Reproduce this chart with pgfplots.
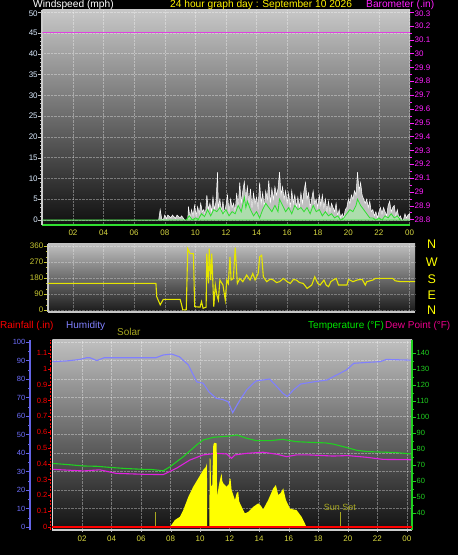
\documentclass[border=0pt]{standalone}
\usepackage{pgfplots}
\pgfplotsset{compat=1.18}
\usepackage{fontspec}
\setmainfont{Liberation Sans}
\definecolor{tickyel}{HTML}{D8D840}
\definecolor{diryel}{HTML}{C8C832}
\definecolor{windlbl}{HTML}{DCECFF}
\definecolor{baromag}{HTML}{E040E0}
\definecolor{magtxt}{HTML}{FF20FF}
\definecolor{humblue}{HTML}{8080FF}
\definecolor{humlbl}{HTML}{7070FF}
\definecolor{humaxis}{HTML}{6464E6}
\definecolor{tempgreen}{HTML}{20D020}
\definecolor{dewmag}{HTML}{E020E0}
\definecolor{solaryel}{HTML}{FFFF00}
\definecolor{olive2}{HTML}{A8A820}
\definecolor{avggreen}{HTML}{30E030}
\definecolor{palegreen}{HTML}{A8E8A8}
\newcommand\tf{\fontsize{8}{9.5}\selectfont}
\newcommand\smf{\fontsize{7.5}{9}\selectfont}
\newcommand\hf{\fontsize{10.2}{12}\selectfont}
\newcommand\pf{\fontsize{10}{12}\selectfont}
\pgfplotsset{
  /pgf/number format/assume math mode=true,
  base/.style={scale only axis, anchor=south west, tick align=outside,
    major tick length=4pt, minor tick length=2pt,
    every tick label/.append style={inner sep=0.5pt}},
}
\begin{document}
\begin{tikzpicture}[x=1pt,y=1pt]
\useasboundingbox (0,0) rectangle (458,555);
\clip (0,0) rectangle (458,555);
\fill[black] (0,0) rectangle (458,555);

% ================= Panel 1: wind =================
\begin{axis}[base, at={(42.4pt,330pt)}, width=367.6pt, height=215pt,
  xmin=0, xmax=24.03, ymin=-1.2, ymax=50.5,
  axis background/.style={shade, top color=black!22, bottom color=black!94},
  axis x line*=bottom, axis y line*=left,
  x axis line style={-, avggreen, line width=1.2pt},
  y axis line style={-, black!20, line width=2pt},
  xtick={2,4,...,24}, xticklabels={02,04,06,08,10,12,14,16,18,20,22,00},
  x tick label style={text=tickyel, font=\tf},
  xtick style={draw=none},
  ytick={0,5,...,45}, yticklabels={0,5,10,15,20,25,30,35,40,45},
  extra y ticks={50}, extra y tick labels={50},
  extra y tick style={y tick label style={yshift=-1.5pt}},
  minor y tick num=4,
  y tick label style={text=windlbl, font=\tf},
  ytick style={white!75!black},
  grid=major, grid style={densely dotted, white, opacity=0.35},
]
\addplot[fill=black!25, draw=white, line width=0.5pt] table {
0 0
7.6 0
7.7 2.5
7.8 0.3
7.9 0
8.0 1.2
8.1 0.3
8.2 1.2
8.4 0.5
8.5 1.2
8.7 0.4
8.8 1.2
9.0 0.5
9.1 1.0
9.3 0
9.5 0
9.55 3.2
9.65 0.5
9.75 2.5
9.85 1
9.95 3.5
10.05 1
10.15 3.2
10.25 1.5
10.35 4
10.45 2
10.55 2.5
10.65 1
10.75 6
10.85 2.5
10.95 4
11.05 2
11.15 5.5
11.25 2.5
11.35 4.5
11.45 11.5
11.5 3
11.6 5
11.7 2
11.8 4.5
11.9 1.5
12.0 3.5
12.1 6
12.2 2
12.3 5
12.4 3
12.5 4
12.6 2
12.7 6.5
12.8 3
12.9 9
13.0 4
13.1 7
13.2 9.2
13.3 5
13.4 8
13.5 4
13.6 7.5
13.7 3
13.8 6.5
13.9 4
14.0 5.5
14.1 3
14.2 9
14.3 4
14.4 6.5
14.5 3
14.6 7
14.7 5
14.8 9.5
14.9 4
15.0 7.5
15.1 5
15.2 8
15.3 6
15.4 7.5
15.5 11.5
15.6 6
15.7 8
15.8 5
15.9 7
16.0 4
16.1 6.5
16.2 3
16.3 7
16.4 4
16.5 6
16.6 3
16.7 5.5
16.8 3
16.9 6.5
17.0 4
17.1 7
17.2 9
17.3 5
17.4 6.5
17.5 3
17.6 5
17.7 7
17.8 4
17.9 5
18.0 3
18.1 6
18.2 3.5
18.3 6
18.4 3
18.5 5
18.6 2
18.7 4.5
18.8 2
18.9 4
19.0 3
19.1 2
19.2 4
19.3 1
19.4 2.5
19.5 0.5
19.6 1.5
19.7 0.5
19.8 2.5
19.9 3
20.0 5
20.1 4
20.2 6
20.3 5
20.4 7
20.5 6
20.6 11.5
20.7 7
20.8 9
20.9 6
21.0 5
21.1 4
21.2 5
21.3 3
21.4 4.5
21.5 2
21.6 2.5
21.7 1
21.8 2
21.9 0.5
22.0 2
22.1 3
22.2 1.5
22.3 3
22.4 2
22.5 1
22.6 3.5
22.7 4.5
22.8 2
22.9 3
23.0 3.5
23.1 1
23.2 2.5
23.3 0.5
23.4 1
23.5 0
23.6 0
23.7 1.5
23.8 0.5
23.9 1.2
24.0 1.5
24.03 0
} \closedcycle;
\addplot[fill=palegreen, fill opacity=0.75, draw=avggreen, line width=0.8pt] table {
0 0
9.4 0
9.6 1
9.8 0
10.0 0.5
10.2 0.2
10.4 1.5
10.6 0.8
10.8 2.5
11.0 1
11.2 2.5
11.4 2
11.6 3
11.8 1.5
12.0 2.5
12.2 1
12.4 2
12.6 1.5
12.8 3.5
13.0 2
13.2 5.5
13.3 3
13.4 4.5
13.6 2.5
13.8 1
14.0 2
14.2 0.5
14.4 2.5
14.6 4
14.8 3
15.0 2
15.2 3.5
15.4 2
15.5 5
15.7 3.5
15.9 2
16.1 3
16.3 1.5
16.5 3.5
16.7 2.5
16.9 3
17.1 2
17.3 3
17.5 1.5
17.7 3.5
17.9 2
18.1 2.5
18.3 1
18.5 2
18.7 1
18.9 1.5
19.1 0.5
19.3 1
19.5 0
19.7 0.5
19.9 1.5
20.1 2.5
20.3 2
20.5 3.5
20.6 5
20.8 3.5
21.0 2.5
21.2 1.5
21.4 0.5
21.6 0.5
21.8 0
22.0 0.5
22.2 0
22.4 1
22.6 0.5
22.8 1.5
23.0 0.5
23.2 1
23.4 0
24.03 0
} \closedcycle;
\end{axis}
\begin{axis}[base, at={(42.4pt,330pt)}, width=367.6pt, height=215pt,
  xmin=0, xmax=24.03, ymin=28.76, ymax=30.314,
  axis x line=none, axis y line*=right,
  y axis line style={-, draw=none},
  ytick={28.8,28.9,29,29.1,29.2,29.3,29.4,29.5,29.6,29.7,29.8,29.9,30,30.1,30.2},
  yticklabels={28.8,28.9,29,29.1,29.2,29.3,29.4,29.5,29.6,29.7,29.8,29.9,30,30.1,30.2},
  extra y ticks={30.3}, extra y tick labels={30.3},
  extra y tick style={y tick label style={yshift=-1.5pt}},
  minor y tick num=1,
  y tick label style={text=magtxt, font=\tf},
  ytick style={magtxt},
]
\addplot[baromag, line width=1.6pt] coordinates {(0,30.15) (24.03,30.15)};
\end{axis}

% ================= Panel 2: direction =================
\begin{axis}[base, at={(48pt,243pt)}, width=367pt, height=68pt,
  xmin=0.366, xmax=24.35, ymin=-10, ymax=371,
  axis background/.style={shade, top color=black!25, bottom color=black!90},
  axis x line*=bottom, axis y line*=left,
  x axis line style={-, black!22, line width=1.5pt},
  y axis line style={-, black!22, line width=1.5pt},
  xtick={2,4,...,24}, xticklabels={}, xtick style={draw=none},
  ytick={0,90,180,270,360}, yticklabels={0,90,180,270,360},
  minor y tick num=2,
  y tick label style={text=diryel, font=\tf},
  ytick style={diryel},
  grid=major, grid style={densely dotted, white, opacity=0.3},
]
\addplot[solaryel!90!black, line width=1.1pt] table {
0.37 150
7.42 150
7.47 76
7.7 30
7.9 61
9.0 61
9.1 30
9.17 2
9.4 2
9.5 345
9.65 317
9.87 317
9.95 20
10.3 17
10.4 48
10.5 11
10.7 17
10.74 317
10.85 150
10.9 345
11.0 169
11.07 317
11.2 20
11.3 141
11.4 85
11.5 57
11.6 169
11.8 141
11.95 57
12.05 169
12.15 150
12.26 299
12.33 169
12.48 178
12.6 351
12.74 150
12.9 178
13.1 160
13.35 197
13.57 169
13.75 206
13.9 169
14.1 206
14.2 299
14.33 308
14.44 187
14.66 160
14.9 175
15.1 169
15.3 155
15.5 160
15.75 178
16.0 160
16.2 150
16.4 172
16.6 169
16.8 155
17.05 150
17.3 122
17.6 141
17.8 187
18.0 150
18.15 141
18.4 169
18.55 140
18.7 132
18.85 160
19.0 169
19.2 178
19.35 141
19.9 141
20.0 173
20.3 160
20.6 170
20.9 173
21.1 141
21.2 160
21.6 169
21.75 178
22.9 178
23.05 165
23.4 160
24.35 160
};
\end{axis}
\begin{scope}[font=\fontsize{12.5}{14}\selectfont, text=solaryel]
\node at (431.7,310.7) {N};
\node at (431.7,292.7) {W};
\node at (431.7,276) {S};
\node at (431.7,260) {E};
\node at (431.7,244.3) {N};
\end{scope}

% ================= Panel 3 =================
\begin{axis}[base, at={(52.5pt,25pt)}, width=359.5pt, height=190pt,
  xmin=0, xmax=24.35, ymin=-1.62, ymax=101.1,
  axis background/.style={shade, top color=black!25, bottom color=black!93},
  axis x line*=bottom, axis y line*=left,
  x axis line style={-, black!20, line width=1.2pt},
  y axis line style={-, black!15, line width=1.5pt},
  xtick={2,4,...,24}, xticklabels={02,04,06,08,10,12,14,16,18,20,22,00},
  x tick label style={text=tickyel, font=\tf, yshift=-3pt},
  xtick style={black!30}, major tick length=2pt,
  ytick={10,20,...,100}, yticklabels={}, ytick style={draw=none},
  grid=major, grid style={densely dotted, white, opacity=0.35},
]
\end{axis}
% humidity axis (line at x=30)
\begin{axis}[base, at={(30pt,25pt)}, width=382pt, height=190pt,
  xmin=-1.523, xmax=24.34, ymin=-1.62, ymax=101.1,
  axis x line=none, axis y line*=left,
  y axis line style={-, humaxis, line width=1.7pt},
  ytick={0,10,...,100}, yticklabels={0,10,20,30,40,50,60,70,80,90,100},
  minor y tick num=1,
  y tick label style={text=humlbl, font=\smf},
  ytick style={humaxis},
]
\addplot[humblue, line width=1.1pt] table {
0 89.4
1.0 89.8
1.86 90.6
2.3 91.5
2.54 91.5
3.0 90
3.5 91.5
5.0 91.5
7.0 91.5
7.5 93
8.07 93.5
8.6 92
9.2 87.6
9.76 78.5
10.2 77.7
10.6 73
11.1 69.5
11.5 69
11.9 67.7
12.2 61.8
12.5 66
12.8 70
13.14 74
13.6 77.7
13.8 79
14.3 79.5
14.7 80
15.2 75.8
15.6 72.3
15.9 70.5
16.3 74
16.8 77.3
17.7 78.5
18.6 79.5
19.0 81.2
19.9 84.9
20.4 88.5
21.3 89
22.2 89.4
22.6 90.6
24.3 90.2
};
\end{axis}
% temperature axis
\begin{axis}[base, at={(52.5pt,25pt)}, width=359.5pt, height=190pt,
  xmin=0, xmax=24.35, ymin=29.4, ymax=148.1,
  axis x line=none, axis y line*=right,
  y axis line style={-, tempgreen, line width=1.3pt},
  ytick={40,50,...,140}, yticklabels={40,50,60,70,80,90,100,110,120,130,140},
  minor y tick num=1,
  y tick label style={text=tempgreen, font=\smf},
  ytick style={tempgreen},
]
\addplot[tempgreen, line width=1.1pt] table {
0 71.0
1.0 70.3
2.1 69.4
3.0 69.2
3.9 68.5
5.0 67.8
6.15 67.3
6.6 67.3
7.5 66.4
7.96 68.9
8.86 75.2
9.76 82.5
10.2 85.6
10.9 87.3
12.0 88.1
12.5 88.8
13.15 86.7
13.8 85.2
14.7 85.2
15.6 86
16.5 84.6
17.4 84.2
18.5 83.8
19.0 83.1
19.9 81
20.6 79.2
21.3 78.4
22.2 78.1
23.2 77.8
24.3 76.9
};
\addplot[dewmag, line width=1.1pt] table {
0 67.3
1.0 66.8
2.1 66.3
3.2 67
4.3 64.8
6.15 64.2
7.5 64.0
8.4 68
9.3 73.1
10.2 76.3
11.1 77.3
11.8 76.9
12.13 74.2
12.36 76.3
13.15 77.3
14.27 78
15.2 76.7
15.86 75.2
16.5 76.3
17.4 76.3
19.0 75.6
20.0 75.9
21.3 74.8
22.4 73.5
24.3 73.3
};
\end{axis}
% solar axis (hidden)
\begin{axis}[base, at={(52.5pt,25pt)}, width=359.5pt, height=190pt,
  xmin=0, xmax=24.35, ymin=-15, ymax=935,
  hide axis,
]
\addplot[fill=solaryel, draw=none] table {
0 0
7.96 0
8.29 35
8.63 51
8.86 85
9.2 151
9.53 201
9.87 243
10.21 285
10.39 301
10.46 318
10.48 0
10.62 0
10.65 343
10.7 343
10.74 201
10.82 210
10.89 410
10.96 421
11.12 418
11.15 151
11.25 200
11.34 235
11.45 268
11.5 230
11.57 218
11.79 201
11.95 215
12.0 243
12.06 240
12.13 185
12.36 135
12.48 170
12.58 176
12.64 130
12.7 118
13.03 68
13.26 76
13.6 101
13.93 118
14.1 108
14.27 88
14.61 135
14.95 193
15.13 210
15.29 160
15.45 170
15.63 193
15.81 135
16.08 93
16.3 88
16.53 85
16.87 51
17.05 25
17.2 0
24.35 0
} \closedcycle;
\addplot[olive2, line width=1.3pt, ycomb] coordinates {(7.0,75) (19.5,75)};
\node[text=olive2, font=\fontsize{9}{10}\selectfont] at (axis cs:19.47,97) {Sun Set};
\end{axis}
% rainfall axis (line at x=50.5)
\begin{axis}[base, at={(50.5pt,25pt)}, width=361.5pt, height=190pt,
  xmin=-0.135, xmax=24.34, ymin=-0.019, ymax=1.1835,
  axis x line=none, axis y line*=left,
  y axis line style={-, red, line width=1.5pt, dash pattern=on 2pt off 1.5pt},
  ytick={0,0.1,0.2,0.3,0.4,0.5,0.6,0.7,0.8,0.9,1,1.1},
  yticklabels={0,0.1,0.2,0.3,0.4,0.5,0.6,0.7,0.8,0.9,1,1.1},
  y tick label style={text=red, font=\smf},
  ytick style={red}, major tick length=2.5pt,
]
\addplot[red, line width=2.2pt] coordinates {(0,0) (24.34,0)};
\end{axis}

% ================= Titles =================
\tikzset{ttl/.style={anchor=base west, inner sep=0, text height=7.2pt, text depth=1.8pt}}
\node[ttl, text=white, font=\hf] at (33,547.6) {Windspeed (mph)};
\node[ttl, text=yellow, font=\hf] at (170,547.6) {24 hour graph day : September 10 2026};
\node[ttl, text=magtxt, font=\hf] at (366,547.6) {Barometer (.in)};
\node[anchor=west, inner sep=0, text=red, font=\pf] at (0,229) {Rainfall (.in)};
\node[anchor=west, inner sep=0, text=humblue, font=\pf] at (66,229) {Humidity};
\node[anchor=west, inner sep=0, text=olive2, font=\pf] at (117,223) {Solar};
\node[anchor=west, inner sep=0, text=green!90!black, font=\pf] at (308,229) {Temperature (°F)};
\node[anchor=west, inner sep=0, text=magenta, font=\pf] at (385,229) {Dew Point (°F)};
\end{tikzpicture}
\end{document}
